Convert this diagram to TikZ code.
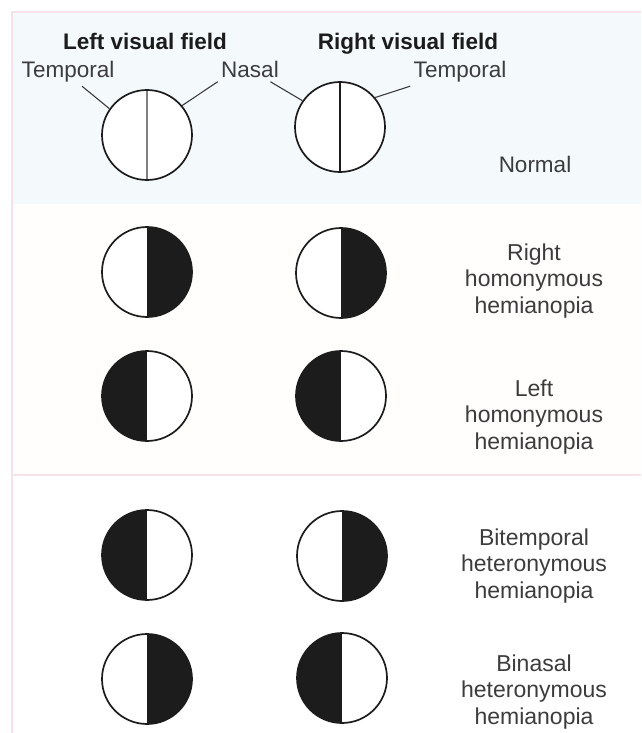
\documentclass[tikz,border=0pt]{standalone}
\usepackage{fontspec}
\setmainfont{Liberation Sans}
\usetikzlibrary{positioning}
\definecolor{panelblue}{HTML}{F4F9FC}
\definecolor{panelcream}{HTML}{FFFEFC}
\definecolor{edgepink}{HTML}{F8E2EA}
\definecolor{fieldink}{HTML}{1C1C1C}
\definecolor{labelink}{HTML}{3C3C3C}

\begin{document}
\begin{tikzpicture}[x=1pt,y=-1pt,
  field/.style={circle,draw=fieldink,line width=1.7pt,minimum size=90pt,
    inner sep=0pt,fill=white},
  midline/.style={path picture={\draw[#1,line width=1.6pt]
    (path picture bounding box.north) -- (path picture bounding box.south);}},
  blindleft/.style={path picture={\fill[fieldink]
    (path picture bounding box.north west) rectangle (path picture bounding box.south);}},
  blindright/.style={path picture={\fill[fieldink]
    (path picture bounding box.north) rectangle (path picture bounding box.south east);}},
  heading/.style={font=\bfseries\fontsize{22.5}{26}\selectfont,text=fieldink,anchor=base},
  side/.style={font=\fontsize{22.5}{26}\selectfont,text=labelink,anchor=base},
  defect/.style={font=\fontsize{23}{26.5}\selectfont,text=labelink,align=center},
  leader/.style={draw=labelink,line width=1.1pt}
]
  \useasboundingbox (0,0) rectangle (641,733);
  \fill[panelblue] (11,12) rectangle (641,204);
  \fill[panelcream] (11,204) rectangle (641,474);
  \draw[edgepink,line width=1.5pt] (12,733) -- (12,12) -- (641,12);
  \draw[edgepink,line width=1.5pt] (12,475) -- (641,475);

  \node[heading] (lvf) at (145,50) {Left visual field};
  \node[heading] (rvf) at (408,50) {Right visual field};
  \node[side] (templ) at (68,78) {Temporal};
  \node[side] (nasl) at (250,78) {Nasal};
  \node[side] (tempr) at (460,78) {Temporal};

  % normal fields
  \node[field,midline=gray] (lnorm) at (147,135) {};
  \node[field,midline=fieldink] (rnorm) at (340,127) {};
  \draw[leader] (templ.-45) -- (lnorm.145);
  \draw[leader] (nasl.south west) -- (lnorm.40);
  \draw[leader] (nasl.-30) -- (rnorm.145);
  \draw[leader] (tempr.south west) -- (rnorm.40);
  \node[side] (normal) at (535,172) {Normal};

  % homonymous
  \node[field,blindright] (lrhom) at (147,272) {};
  \node[field,blindright] (rrhom) at (341,273) {};
  \node[defect] (rhom) at (534,281) {Right\\homonymous\\hemianopia};
  \node[field,blindleft] (llhom) at (147,396) {};
  \node[field,blindleft] (rlhom) at (341,396) {};
  \node[defect] (lhom) at (534,417) {Left\\homonymous\\hemianopia};

  % heteronymous
  \node[field,blindleft] (lbit) at (147,555) {};
  \node[field,blindright] (rbit) at (342,556) {};
  \node[defect] (bitemp) at (534,566) {Bitemporal\\heteronymous\\hemianopia};
  \node[field,blindright] (lbin) at (147,679) {};
  \node[field,blindleft] (rbin) at (342,678) {};
  \node[defect] (binas) at (534,692) {Binasal\\heteronymous\\hemianopia};
\end{tikzpicture}
\end{document}
